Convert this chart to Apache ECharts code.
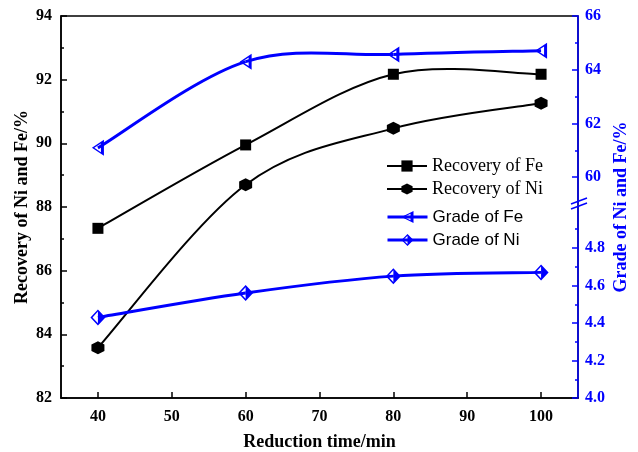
<!DOCTYPE html>
<html>
<head>
<meta charset="utf-8">
<script src="https://cdn.jsdelivr.net/npm/echarts@6/dist/echarts.min.js"></script>
<style>
html, body { margin: 0; padding: 0; background: #fff; }
#chart { width: 638px; height: 452px; }
</style>
</head>
<body>
<div id="chart"></div>
<script>
// data
var times = [40, 60, 80, 100];
var recoveryFe = [87.33, 89.95, 92.17, 92.17];
var recoveryNi = [83.58, 88.7, 90.47, 91.26];
var gradeFe = [61.09, 64.30, 64.57, 64.71];
var gradeNi = [4.43, 4.56, 4.65, 4.67];

// tick labels
var xTicks = [40, 50, 60, 70, 80, 90, 100];
var upperTicks = [60, 62, 64, 66];
var upperMinor = [61, 63, 65];
var lowerTicks = [4.0, 4.2, 4.4, 4.6, 4.8];
var lowerMinor = [4.1, 4.3, 4.5, 4.7, 4.9];

var serif = "'Times New Roman', 'Liberation Serif', serif";
var sans = "Arial, 'Liberation Sans', sans-serif";
var blue = '#0000ff';

// half filled markers (origin style)
var hexPath = 'path://M10 0 L18.66 5 L18.66 15 L10 20 L1.34 15 L1.34 5 Z';
var triPath = 'path://M0 10 L18 1 L18 19 Z M3.6 10 L13.5 14.8 L13.5 5.2 Z';
var diaPath = 'path://M10 0 L20 10 L10 20 L0 10 Z M10 2.8 L2.8 10 L10 17.2 Z';

function pairs(ys) {
	return times.map(function (t, i) { return [t, ys[i]]; });
}

// spline through the points (origin draws these as splines that may overshoot)
function curve(ys, xi, yi, color, width) {
	return {
		type: 'custom', coordinateSystem: 'cartesian2d',
		xAxisIndex: xi, yAxisIndex: yi, z: 1, silent: true,
		data: pairs(ys),
		renderItem: function (params, api) {
			var i = params.dataIndex, n = ys.length;
			if (i >= n - 1) return null;
			var p = function (k) {
				k = Math.max(0, Math.min(n - 1, k));
				return api.coord([times[k], ys[k]]);
			};
			var p0 = p(i - 1), p1 = p(i), p2 = p(i + 1), p3 = p(i + 2);
			return {
				type: 'bezierCurve',
				shape: {
					x1: p1[0], y1: p1[1], x2: p2[0], y2: p2[1],
					cpx1: p1[0] + (p2[0] - p0[0]) / 6, cpy1: p1[1] + (p2[1] - p0[1]) / 6,
					cpx2: p2[0] - (p3[0] - p1[0]) / 6, cpy2: p2[1] - (p3[1] - p1[1]) / 6
				},
				style: { stroke: color, lineWidth: width, fill: null }
			};
		}
	};
}

function markers(name, ys, xi, yi, symbol, size, color) {
	return {
		name: name, type: 'line', xAxisIndex: xi, yAxisIndex: yi, z: 3,
		data: pairs(ys), symbol: symbol, symbolSize: size, symbolKeepAspect: false,
		itemStyle: { color: color }, lineStyle: { width: 0, color: color }
	};
}

var chart = echarts.init(document.getElementById('chart'));

var option = {
	animation: false,
	backgroundColor: '#fff',
	grid: [
		{ left: 61, right: 60, top: 16, bottom: 54, outerBoundsMode: 'none', show: true, borderColor: '#000', borderWidth: 1.5, backgroundColor: 'transparent' },
		{ left: 61, right: 60, top: 16, height: 188, outerBoundsMode: 'none' },
		{ left: 61, right: 60, top: 206, bottom: 54, outerBoundsMode: 'none' }
	],
	legend: [
		{
			data: [
				{ name: 'Recovery of Fe', lineStyle: { width: 2, color: '#000' } },
				{ name: 'Recovery of Ni', lineStyle: { width: 2, color: '#000' } }
			],
			orient: 'vertical', left: 381, top: 152,
			itemWidth: 40, itemHeight: 14, itemGap: 5,
			textStyle: { fontFamily: serif, fontSize: 18, color: '#000', lineHeight: 18 }
		},
		{
			data: [
				{ name: 'Grade of Fe', lineStyle: { width: 3, color: blue } },
				{ name: 'Grade of Ni', lineStyle: { width: 3, color: blue } }
			],
			orient: 'vertical', left: 381, top: 203,
			itemWidth: 40, itemHeight: 15, itemGap: 5,
			textStyle: { fontFamily: sans, fontSize: 17, color: '#000', lineHeight: 18 }
		}
	],
	xAxis: [
		{
			gridIndex: 0, type: 'value', min: 35, max: 105,
			name: 'Reduction time/min', nameLocation: 'middle', nameGap: 35, nameMoveOverlap: false,
			nameTextStyle: { fontFamily: serif, fontWeight: 'bold', fontSize: 18, color: '#000' },
			axisLine: { lineStyle: { color: '#000', width: 1.5 } },
			axisTick: { inside: true, length: 6, customValues: xTicks, lineStyle: { color: '#000', width: 1.5 } },
			axisLabel: { customValues: xTicks, margin: 11, fontFamily: serif, fontWeight: 'bold', fontSize: 16, color: '#000' },
			splitLine: { show: false }
		},
		{ gridIndex: 1, type: 'value', min: 35, max: 105, show: false },
		{ gridIndex: 2, type: 'value', min: 35, max: 105, show: false }
	],
	yAxis: [
		{
			gridIndex: 0, type: 'value', position: 'left', min: 82, max: 94, interval: 2,
			name: 'Recovery of Ni and Fe/%', nameLocation: 'middle', nameGap: 30, nameMoveOverlap: false,
			nameTextStyle: { fontFamily: serif, fontWeight: 'bold', fontSize: 18, color: '#000' },
			axisLine: { lineStyle: { color: '#000', width: 1.5 } },
			axisTick: { inside: true, length: 6, lineStyle: { color: '#000', width: 1.5 } },
			minorTick: { show: true, splitNumber: 2, length: 3, lineStyle: { color: '#000', width: 1.5 } },
			axisLabel: { margin: 9, fontFamily: serif, fontWeight: 'bold', fontSize: 16, color: '#000' },
			splitLine: { show: false }
		},
		{
			gridIndex: 1, type: 'value', position: 'right', min: 59, max: 66,
			axisLine: { lineStyle: { color: blue, width: 1.5 } },
			axisTick: { inside: true, length: 6, customValues: upperTicks, lineStyle: { color: blue, width: 1.5 } },
			axisLabel: { customValues: upperTicks, margin: 7, fontFamily: serif, fontWeight: 'bold', fontSize: 16, color: blue },
			splitLine: { show: false }
		},
		{
			gridIndex: 1, type: 'value', position: 'right', min: 59, max: 66,
			axisLine: { show: false },
			axisTick: { inside: true, length: 3, customValues: upperMinor, lineStyle: { color: blue, width: 1.5 } },
			axisLabel: { show: false },
			splitLine: { show: false }
		},
		{
			gridIndex: 2, type: 'value', position: 'right', min: 4, max: 5.024,
			axisLine: { lineStyle: { color: blue, width: 1.5 } },
			axisTick: { inside: true, length: 6, customValues: lowerTicks, lineStyle: { color: blue, width: 1.5 } },
			axisLabel: {
				customValues: lowerTicks, margin: 7, fontFamily: serif, fontWeight: 'bold', fontSize: 16, color: blue,
				formatter: function (v) { return Number(v).toFixed(1); }
			},
			splitLine: { show: false }
		},
		{
			gridIndex: 2, type: 'value', position: 'right', min: 4, max: 5.024,
			axisLine: { show: false },
			axisTick: { inside: true, length: 3, customValues: lowerMinor, lineStyle: { color: blue, width: 1.5 } },
			axisLabel: { show: false },
			splitLine: { show: false }
		},
		{
			// only carries the right axis title
			gridIndex: 0, type: 'value', position: 'right', min: 82, max: 94,
			name: 'Grade of Ni and Fe/%', nameLocation: 'middle', nameGap: 34, nameRotate: 90, nameMoveOverlap: false,
			nameTextStyle: { fontFamily: serif, fontWeight: 'bold', fontSize: 18, color: blue },
			axisLine: { show: false }, axisTick: { show: false }, axisLabel: { show: false },
			splitLine: { show: false }
		}
	],
	graphic: [
		{ type: 'line', shape: { x1: 571, y1: 204, x2: 587, y2: 198 }, style: { stroke: blue, lineWidth: 1.5 } },
		{ type: 'line', shape: { x1: 571, y1: 209, x2: 587, y2: 203 }, style: { stroke: blue, lineWidth: 1.5 } }
	],
	series: [
		curve(recoveryFe, 0, 0, '#000', 2),
		curve(recoveryNi, 0, 0, '#000', 2),
		curve(gradeFe, 1, 1, blue, 3),
		curve(gradeNi, 2, 3, blue, 3),
		markers('Recovery of Fe', recoveryFe, 0, 0, 'rect', 11, '#000'),
		markers('Recovery of Ni', recoveryNi, 0, 0, hexPath, 13, '#000'),
		markers('Grade of Fe', gradeFe, 1, 1, triPath, [12, 16], blue),
		markers('Grade of Ni', gradeNi, 2, 3, diaPath, [15, 16], blue)
	]
};

chart.setOption(option);
</script>
</body>
</html>
